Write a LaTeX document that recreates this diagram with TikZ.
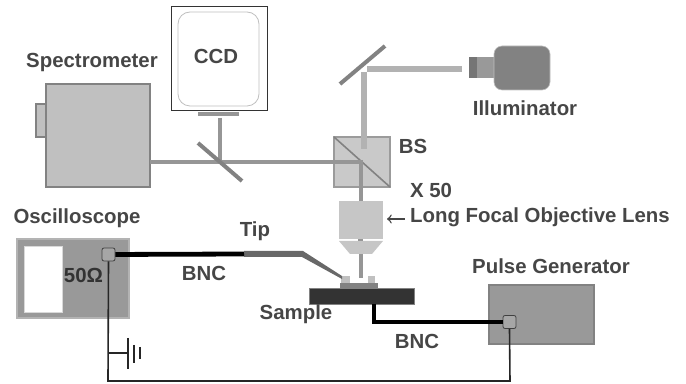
\documentclass[tikz,border=0pt]{standalone}
\usepackage{fontspec}
\setmainfont{Liberation Sans}
\definecolor{labelgray}{RGB}{70, 70, 70}
\definecolor{boxgray}{RGB}{192, 192, 192}
\definecolor{edgegray}{RGB}{130, 130, 130}
\definecolor{beamgray}{RGB}{150, 150, 150}
\definecolor{lampbeam}{RGB}{178, 178, 178}
\definecolor{instrgray}{RGB}{153, 153, 153}
\tikzset{
    lbl/.style={font=\fontsize{10.2}{12}\selectfont\bfseries, text=labelgray, inner sep=0pt},
    bncplug/.style={draw=black!75, fill=boxgray!60!gray, rounded corners=1pt, line width=0.4pt,
        minimum width=6.5pt, minimum height=6.5pt, inner sep=0pt},
    beam/.style={draw=beamgray, line width=2pt},
    lampray/.style={draw=lampbeam, line width=3pt},
    mirror/.style={draw=edgegray, line width=2pt},
    bnccable/.style={draw=black, line width=2.4pt},
    wire/.style={draw=black!85, line width=0.8pt}
}

\begin{document}
\begin{tikzpicture}[x=0.5pt, y=-0.5pt]
            \useasboundingbox (0,0) rectangle (686,384);
            % Spettrometro e CCD
            \draw[fill=boxgray, draw=edgegray, line width=0.9pt] (36,104) rectangle (46,137);
            \draw[fill=boxgray, draw=edgegray, line width=1.1pt] (46,84) rectangle (150,187);
            \draw[fill=white, draw=black!80, line width=0.5pt] (171,7) rectangle (267,111);
            \draw[fill=white, draw=black!25, line width=0.4pt, rounded corners=6pt] (178,12) rectangle (259,106);
            \fill[beamgray] (198,112) rectangle (239,116);
            \coordinate (specport) at (150,162);
            \coordinate (ccdport) at (220,118);
            \coordinate (splitfold) at (220,162);

            % Cubo BS
            \draw[fill=boxgray!85, draw=edgegray!80, line width=0.7pt] (334,137) rectangle (390,187);
            \draw[draw=edgegray, line width=0.8pt] (334,137) -- (390,187);
            \coordinate (bsfold) at (361,162);
            \coordinate (lenstop) at (361,201);

            % Fasci
            \draw[beam] (specport) -- (bsfold) -- (lenstop);
            \draw[beam] (ccdport) -- (splitfold);
            \draw[mirror] (198,143) -- (242,181);
            \draw[mirror] (340,84) -- (385,46);
            \coordinate (lampport) at (462,69);
            \coordinate (foldright) at (367,69);
            \coordinate (foldtop) at (363.5,72);
            \coordinate (bsentry) at (363.5,149);
            \draw[lampray] (lampport) -- (foldright);
            \draw[lampray] (foldtop) -- (bsentry);

            % Illuminatore
            \fill[instrgray] (477,57) rectangle (495,78);
            \fill[edgegray!90!black] (469,57) rectangle (477,78);
            \draw[fill=edgegray, draw=boxgray, line width=0.3pt, rounded corners=4pt] (494,46) rectangle (550,90);

            % Obiettivo
            \fill[boxgray!90] (339,201) rectangle (383,239);
            \fill[boxgray!90] (339,241) -- (383,241) -- (372,254) -- (350,254) -- cycle;
            \fill[beamgray] (358,239) rectangle (363,241);
            \coordinate (lensend) at (360.5,254);
            \coordinate (lensfocus) at (360.5,278);
            \draw[beam] (lensend) -- (lensfocus);

            % Campione
            \fill[boxgray] (341,276) rectangle (350,284);
            \fill[boxgray] (368,276) rectangle (375,284);
            \fill[edgegray] (340,283) rectangle (378,288);
            \draw[fill=black!80, draw=edgegray, line width=0.3pt] (309,288) rectangle (414,304);

            % Punta
            \fill[edgegray!80!black] (244,251) -- (303,251) -- (342,276) -- (342,279) -- (302,257) -- (244,257) -- cycle;

            % Strumenti
            \draw[fill=instrgray, draw=boxgray!80!gray, line width=0.7pt] (17,239) rectangle (129,318);
            \draw[fill=white, draw=boxgray!60, line width=0.3pt] (24,246) rectangle (62,312);
            \draw[fill=instrgray, draw=edgegray, line width=0.7pt] (489,285) rectangle (594,344);

            % Cavi
            \node[bncplug] (oscplug) at (108.5,254.5) {};
            \node[bncplug] (genplug) at (509.5,322) {};
            \coordinate (tipstart) at (244,254);
            \coordinate (samplebase) at (374,304);
            \coordinate (gndnode) at (108,353);
            \coordinate (gndplate) at (128,353);
            \draw[bnccable] (oscplug) -- (tipstart);
            \draw[bnccable] (samplebase) |- (genplug);
            \draw[wire] (oscplug.south) -- (108,381) -- (510,381) -- (genplug.south);
            \draw[wire] (gndnode) -- (gndplate);

            % Massa
            \draw[wire] (128,338) -- (128,369);
            \draw[wire] (134,345) -- (134,363);
            \draw[black!85, line width=1pt] (140,347) -- (140,359);

            % Etichette
            \node[lbl] (speclbl) at (92,63) {Spectrometer};
            \node[lbl] (ccdlbl) at (216,56) {CCD};
            \node[lbl] (lamplbl) at (525,108) {Illuminator};
            \node[lbl] (bslbl) at (413,146) {BS};
            \node[lbl] (maglbl) at (431,190) {X 50};
            \node[lbl] (lenslbl) at (540,217) {Long Focal Objective Lens};
            \node[lbl] (osclbl) at (77,218) {Oscilloscope};
            \node[lbl, text=black!80] (ohmlbl) at (83.5,275) {50Ω};
            \node[lbl] (tiplbl) at (255,231) {Tip};
            \node[lbl] (bnclbla) at (204,273) {BNC};
            \node[lbl] (samplelbl) at (296,314) {Sample};
            \node[lbl] (bnclblb) at (417,341) {BNC};
            \node[lbl] (genlbl) at (551,266) {Pulse Generator};

            % Freccia
            \draw[->, draw=labelgray, line width=0.7pt] (lenslbl.west) ++(-5,2) -- (387,219);
        \end{tikzpicture}
\end{document}
